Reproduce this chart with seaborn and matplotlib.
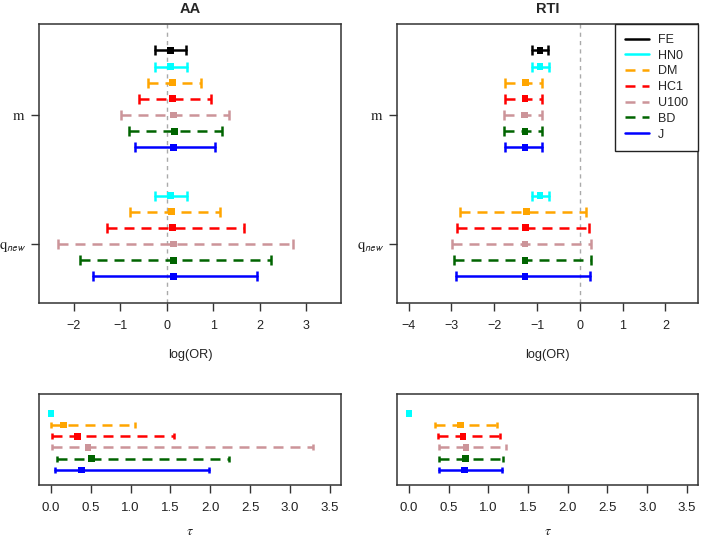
import numpy as np
import pandas as pd
import matplotlib
matplotlib.use("Agg")
import matplotlib.pyplot as plt
import seaborn as sns
from matplotlib.lines import Line2D

sns.set_style("white")
plt.rcParams["font.family"] = ["Liberation Sans", "DejaVu Sans"]
plt.rcParams["mathtext.fontset"] = "stix"

# ---------------- data ----------------
methods = ["FE", "HN0", "DM", "HC1", "U100", "BD", "J"]
palette = {"FE": "#000000", "HN0": "#00FFFF", "DM": "#FFA500", "HC1": "#FF0000",
           "U100": "#CC9499", "BD": "#006400", "J": "#0000FF"}
dashed = {"FE": False, "HN0": False, "DM": True, "HC1": True,
          "U100": True, "BD": True, "J": False}

# AA, parameter m (all methods)
aa_m_est = [0.09, 0.09, 0.12, 0.13, 0.14, 0.16, 0.14]
aa_m_lo = [-0.25, -0.25, -0.40, -0.59, -0.99, -0.81, -0.69]
aa_m_hi = [0.42, 0.43, 0.73, 0.95, 1.35, 1.18, 1.05]
# AA, parameter q_new (no FE)
q_methods = methods[1:]
aa_q_est = [0.09, 0.11, 0.13, 0.14, 0.15, 0.14]
aa_q_lo = [-0.25, -0.79, -1.28, -2.34, -1.86, -1.58]
aa_q_hi = [0.43, 1.15, 1.66, 2.71, 2.24, 1.95]
# RTI, parameter m
rti_m_est = [-0.93, -0.93, -1.26, -1.28, -1.29, -1.28, -1.28]
rti_m_lo = [-1.11, -1.12, -1.74, -1.75, -1.78, -1.77, -1.75]
rti_m_hi = [-0.74, -0.73, -0.88, -0.88, -0.89, -0.88, -0.89]
# RTI, parameter q_new
rti_q_est = [-0.93, -1.25, -1.27, -1.28, -1.28, -1.28]
rti_q_lo = [-1.12, -2.81, -2.87, -2.99, -2.95, -2.90]
rti_q_hi = [-0.73, 0.15, 0.21, 0.26, 0.25, 0.23]
# tau (no FE)
tau_methods = methods[1:]
aa_tau_est = [0.0, 0.155, 0.33, 0.465, 0.51, 0.385]
aa_tau_lo = [np.nan, 0.0, 0.01, 0.01, 0.07, 0.05]
aa_tau_hi = [np.nan, 1.05, 1.55, 3.29, 2.24, 1.98]
rti_tau_est = [0.0, 0.65, 0.68, 0.72, 0.71, 0.695]
rti_tau_lo = [np.nan, 0.33, 0.36, 0.38, 0.385, 0.377]
rti_tau_hi = [np.nan, 1.105, 1.15, 1.22, 1.19, 1.17]

LW = 1.8
DASH = (0, (4, 2.8))


def frame(meth, est, lo, hi, center, step):
    idx = [methods.index(m) for m in meth]
    return pd.DataFrame({"method": meth, "est": est, "lo": lo, "hi": hi,
                         "y": [center + (4 - i) * step for i in idx]})


def draw(ax, df, cap):
    for _, r in df.iterrows():
        c = palette[r.method]
        if not np.isnan(r.lo):
            ax.plot([r.lo, r.hi], [r.y, r.y], color=c, lw=LW,
                    linestyle=DASH if dashed[r.method] else "-", zorder=2)
            ax.plot([r.lo, r.hi], [r.y, r.y], ls="none", marker="|", ms=cap,
                    mew=LW, color=c, zorder=2)
    sns.scatterplot(data=df, x="est", y="y", hue="method", palette=palette,
                    marker="s", s=24, edgecolor="none", linewidth=0,
                    legend=False, ax=ax, zorder=3)


def style(ax):
    for s in ax.spines.values():
        s.set_visible(True)
        s.set_color("#333333")
        s.set_linewidth(1.1)
    ax.tick_params(axis="both", direction="out", length=5.5, width=1,
                   color="#333333", labelsize=9, labelcolor="#222222", pad=7,
                   bottom=True, left=True, top=False, right=False)
    ax.set_xlabel("")
    ax.set_ylabel("")


fig = plt.figure(figsize=(7.09, 5.41), dpi=100)
W, H = 709, 541
rects = {
    "tl": [39 / W, 1 - 303 / H, 302 / W, 279 / H],
    "tr": [397 / W, 1 - 303 / H, 301 / W, 279 / H],
    "bl": [39 / W, 1 - 485 / H, 302 / W, 91 / H],
    "br": [397 / W, 1 - 485 / H, 301 / W, 91 / H],
}

panels = [
    ("tl", "AA", aa_m_est, aa_m_lo, aa_m_hi, aa_q_est, aa_q_lo, aa_q_hi,
     (-2.746, 3.75), range(-2, 4)),
    ("tr", "RTI", rti_m_est, rti_m_lo, rti_m_hi, rti_q_est, rti_q_lo, rti_q_hi,
     (-4.27, 2.76), range(-4, 3)),
]
top_axes = {}
for key, title, me, ml, mh, qe, ql, qh, xl, xt in panels:
    ax = fig.add_axes(rects[key])
    top_axes[key] = ax
    ax.axvline(0, color="#AAAAAA", lw=1, ls=(0, (3, 3)), zorder=1)
    draw(ax, frame(methods, me, ml, mh, 2.0, 0.125), cap=6.5)
    draw(ax, frame(q_methods, qe, ql, qh, 1.0, 0.125), cap=6.5)
    ax.set_xlim(*xl)
    ax.set_ylim(0.543, 2.705)
    ax.set_xticks(list(xt))
    ax.set_xticklabels([f"{v}".replace("-", "\u2212") for v in xt])
    ax.set_yticks([1.0, 2.0])
    ax.set_yticklabels([r"$\mathrm{q}_{\mathsf{new}}$", r"$\mathrm{m}$"])
    style(ax)
    ax.tick_params(axis="y", pad=4, labelsize=10.5)
    ax.set_title(title, fontweight="bold", fontsize=10.5, pad=8)
    ax.set_xlabel("log(OR)", fontsize=9.2, labelpad=12, color="#222222")

for key, te, tl_, th in [("bl", aa_tau_est, aa_tau_lo, aa_tau_hi),
                         ("br", rti_tau_est, rti_tau_lo, rti_tau_hi)]:
    ax = fig.add_axes(rects[key])
    df = pd.DataFrame({"method": tau_methods, "est": te, "lo": tl_, "hi": th,
                       "y": list(range(len(tau_methods)))})
    draw(ax, df, cap=4.5)
    ax.set_xlim(-0.15, 3.64)
    ax.set_ylim(6.33, -1.75)
    ticks = np.arange(0, 3.51, 0.5)
    ax.set_xticks(ticks)
    ax.set_xticklabels([f"{v:.1f}" for v in ticks])
    ax.set_yticks([])
    style(ax)
    ax.tick_params(axis="x", labelsize=9.5)
    ax.set_xlabel(r"$\tau$", fontsize=10, labelpad=7, color="#222222")

handles = [Line2D([], [], color=palette[m], lw=LW,
                  linestyle=DASH if dashed[m] else "-") for m in methods]
leg = top_axes["tr"].legend(handles, methods, loc="upper right",
                            bbox_to_anchor=(1, 1), borderaxespad=0,
                            fancybox=False, framealpha=1, edgecolor="#222222",
                            fontsize=9, handlelength=1.9, labelspacing=0.3,
                            borderpad=0.8, handletextpad=0.7)
leg.get_frame().set_linewidth(1)

fig.savefig("out.png", dpi=100)
